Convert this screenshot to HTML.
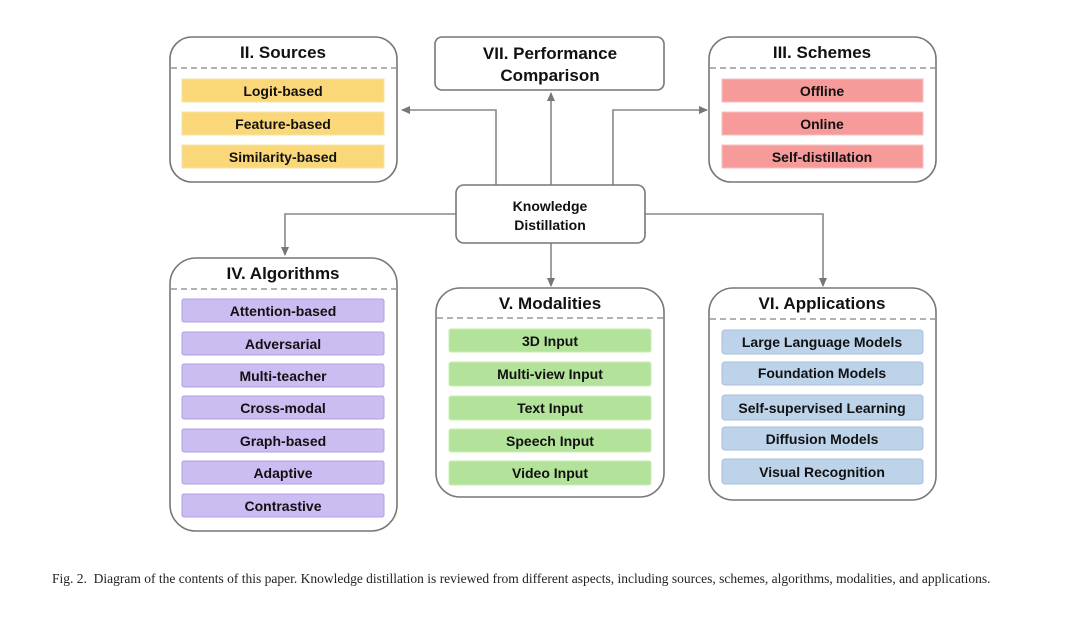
<!DOCTYPE html>
<html><head><meta charset="utf-8"><style>
body{margin:0;background:#fff;width:1080px;height:626px;overflow:hidden}
svg{position:absolute;left:0;top:0}
text{font-family:"Liberation Sans",sans-serif;font-weight:bold;fill:#111;text-anchor:middle}
.t{font-size:17px}.i{font-size:14px}
.cap{position:absolute;left:52px;top:569px;width:976px;font-family:"Liberation Serif",serif;font-size:13.5px;line-height:20px;text-align:justify;text-align-last:left;color:#222}
</style></head><body>
<svg width="1080" height="626" viewBox="0 0 1080 626">
<defs><marker id="a" markerWidth="10" markerHeight="10" refX="8" refY="4" orient="auto" markerUnits="userSpaceOnUse"><path d="M0,0 L9,4 L0,8 Z" fill="#777"/></marker></defs>
<g fill="none" stroke="#888" stroke-width="1.6">
<path d="M496,185 V110 H402" marker-end="url(#a)"/>
<path d="M551,185 V93" marker-end="url(#a)"/>
<path d="M613,185 V110 H707" marker-end="url(#a)"/>
<path d="M456,214 H285 V255" marker-end="url(#a)"/>
<path d="M551,243 V286" marker-end="url(#a)"/>
<path d="M645,214 H823 V286" marker-end="url(#a)"/>
</g>
<g fill="#fff" stroke="#777" stroke-width="1.6">
<rect x="170" y="37" width="227" height="145" rx="22"/>
<rect x="435" y="37" width="229" height="53" rx="7"/>
<rect x="709" y="37" width="227" height="145" rx="22"/>
<rect x="456" y="185" width="189" height="58" rx="8"/>
<rect x="170" y="258" width="227" height="273" rx="26"/>
<rect x="436" y="288" width="228" height="209" rx="24"/>
<rect x="709" y="288" width="227" height="212" rx="24"/>
</g>
<g stroke="#999" stroke-width="1.4" stroke-dasharray="6,4">
<path d="M171,68 H396 M710,68 H935 M171,289 H396 M437,318 H663 M710,319 H935"/>
</g>
<text class="t" x="283" y="58">II. Sources</text>
<text class="t" x="550" y="59">VII. Performance</text>
<text class="t" x="550" y="81">Comparison</text>
<text class="t" x="822" y="58">III. Schemes</text>
<text class="i" x="550" y="211">Knowledge</text>
<text class="i" x="550" y="230">Distillation</text>
<text class="t" x="283" y="279">IV.  Algorithms</text>
<text class="t" x="550" y="309">V. Modalities</text>
<text class="t" x="822" y="309">VI. Applications</text>
<g fill="#fad87a" stroke="#f3e3a8"><rect x="182" y="79" width="202" height="23"/><rect x="182" y="112" width="202" height="23"/><rect x="182" y="145" width="202" height="23"/></g>
<g fill="#f79a9a" stroke="#f6c0c0"><rect x="722" y="79" width="201" height="23"/><rect x="722" y="112" width="201" height="23"/><rect x="722" y="145" width="201" height="23"/></g>
<g fill="#cbbcf2" stroke="#b0a0e0"><rect x="182" y="299" width="202" height="23" rx="2"/><rect x="182" y="332" width="202" height="23" rx="2"/><rect x="182" y="364" width="202" height="23" rx="2"/><rect x="182" y="396" width="202" height="23" rx="2"/><rect x="182" y="429" width="202" height="23" rx="2"/><rect x="182" y="461" width="202" height="23" rx="2"/><rect x="182" y="494" width="202" height="23" rx="2"/></g>
<g fill="#b3e39a" stroke="#c9eeb5"><rect x="449" y="329" width="202" height="23" rx="2"/><rect x="449" y="362" width="202" height="24" rx="2"/><rect x="449" y="396" width="202" height="24" rx="2"/><rect x="449" y="429" width="202" height="23" rx="2"/><rect x="449" y="461" width="202" height="24" rx="2"/></g>
<g fill="#bcd3ea" stroke="#a8bfd8"><rect x="722" y="330" width="201" height="24" rx="3"/><rect x="722" y="362" width="201" height="23" rx="3"/><rect x="722" y="395" width="201" height="25" rx="3"/><rect x="722" y="427" width="201" height="23" rx="3"/><rect x="722" y="459" width="201" height="25" rx="3"/></g>
<g class="i">
<text class="i" x="283" y="96">Logit-based</text>
<text class="i" x="283" y="129">Feature-based</text>
<text class="i" x="283" y="162">Similarity-based</text>
<text class="i" x="822" y="96">Offline</text>
<text class="i" x="822" y="129">Online</text>
<text class="i" x="822" y="162">Self-distillation</text>
<text class="i" x="283" y="316">Attention-based</text>
<text class="i" x="283" y="349">Adversarial</text>
<text class="i" x="283" y="381">Multi-teacher</text>
<text class="i" x="283" y="413">Cross-modal</text>
<text class="i" x="283" y="446">Graph-based</text>
<text class="i" x="283" y="478">Adaptive</text>
<text class="i" x="283" y="511">Contrastive</text>
<text class="i" x="550" y="346">3D Input</text>
<text class="i" x="550" y="379">Multi-view Input</text>
<text class="i" x="550" y="413">Text Input</text>
<text class="i" x="550" y="446">Speech Input</text>
<text class="i" x="550" y="478">Video Input</text>
<text class="i" x="822" y="347">Large Language Models</text>
<text class="i" x="822" y="378">Foundation Models</text>
<text class="i" x="822" y="413">Self-supervised Learning</text>
<text class="i" x="822" y="444">Diffusion Models</text>
<text class="i" x="822" y="477">Visual Recognition</text>
</g>
</svg>
<div class="cap">Fig. 2.&nbsp; Diagram of the contents of this paper. Knowledge distillation is reviewed from different aspects, including sources, schemes, algorithms, modalities, and applications.</div>
</body></html>
